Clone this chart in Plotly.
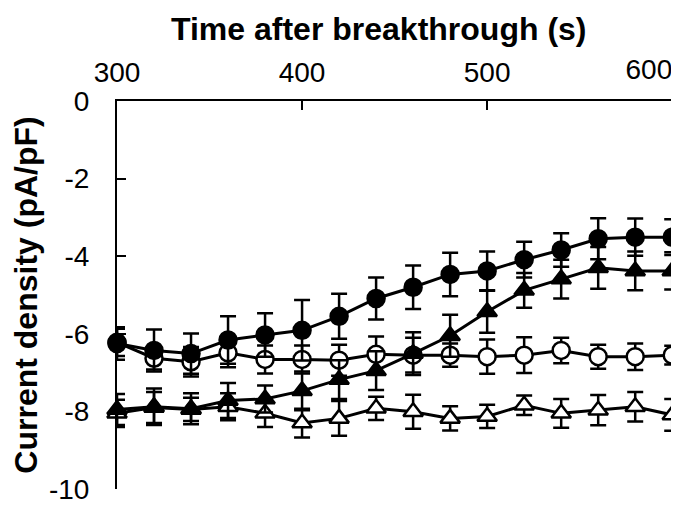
import plotly.graph_objects as go

time_s = [300, 320, 340, 360, 380, 400, 420, 440, 460, 480, 500, 520, 540, 560, 580, 600]

filled_circle = [-6.25, -6.43, -6.51, -6.16, -6.03, -5.91, -5.55, -5.09, -4.80, -4.47, -4.38, -4.09, -3.84, -3.55, -3.51, -3.51]
filled_circle_err = [0.42, 0.54, 0.52, 0.61, 0.56, 0.78, 0.58, 0.54, 0.56, 0.56, 0.50, 0.46, 0.43, 0.53, 0.48, 0.46]

open_circle = [-6.22, -6.63, -6.72, -6.49, -6.66, -6.66, -6.68, -6.53, -6.55, -6.55, -6.59, -6.55, -6.43, -6.59, -6.59, -6.55]
open_circle_err = [0.35, 0.29, 0.38, 0.37, 0.36, 0.36, 0.40, 0.46, 0.45, 0.30, 0.44, 0.46, 0.33, 0.31, 0.34, 0.24]

filled_triangle = [-7.95, -7.88, -7.93, -7.72, -7.68, -7.47, -7.18, -6.95, -6.51, -6.05, -5.43, -4.88, -4.59, -4.30, -4.38, -4.38]
filled_triangle_err = [0.40, 0.47, 0.40, 0.45, 0.35, 0.50, 0.50, 0.50, 0.55, 0.54, 0.54, 0.45, 0.50, 0.54, 0.50, 0.48]

open_triangle = [-8.05, -7.90, -7.95, -7.88, -8.05, -8.30, -8.18, -7.92, -8.01, -8.18, -8.13, -7.84, -8.05, -7.97, -7.88, -8.09]
open_triangle_err = [0.35, 0.40, 0.30, 0.35, 0.35, 0.37, 0.45, 0.30, 0.44, 0.31, 0.30, 0.25, 0.37, 0.39, 0.38, 0.41]

x_ticks = [300, 400, 500]
x_tick_last = [600]
y_ticks = [-10, -8, -6, -4, -2, 0]

FONT = "Liberation Sans, Arial, sans-serif"
X_RANGE = [300, 601.5]

def series(y, err, symbol, fill):
    return go.Scatter(
        x=time_s, y=y, mode="lines+markers",
        line=dict(color="black", width=3),
        marker=dict(symbol=symbol, size=17, color=fill,
                    line=dict(color="black", width=2.5)),
        error_y=dict(type="data", array=err, visible=True,
                     color="black", thickness=2.5, width=8),
        cliponaxis=False, showlegend=False,
    )

fig = go.Figure()
fig.add_trace(series(open_triangle, open_triangle_err, "triangle-up", "white"))
fig.add_trace(series(open_circle, open_circle_err, "circle", "white"))
fig.add_trace(series(filled_triangle, filled_triangle_err, "triangle-up", "black"))
fig.add_trace(series(filled_circle, filled_circle_err, "circle", "black"))
# invisible trace to activate the secondary top axis (last tick label)
fig.add_trace(go.Scatter(x=[X_RANGE[0]], y=[0], xaxis="x2", mode="markers",
                         marker=dict(opacity=0), hoverinfo="skip", showlegend=False))

fig.add_annotation(
    text="<b>Time after breakthrough (s)</b>",
    font=dict(size=32, family=FONT, color="black"),
    xref="paper", yref="paper", x=0.468, y=1,
    xanchor="center", yanchor="middle", yshift=72, borderpad=0,
    showarrow=False,
)

fig.update_layout(
    width=679, height=509,
    margin=dict(l=109, r=12, t=93, b=16),
    paper_bgcolor="white", plot_bgcolor="white",
    font=dict(family=FONT, color="black"),
    xaxis=dict(
        side="top", range=X_RANGE,
        tickvals=x_ticks + x_tick_last, ticktext=[str(v) for v in x_ticks] + [""],
        ticks="inside", ticklen=9, tickwidth=2, tickcolor="black",
        showline=True, linewidth=2, linecolor="black",
        showgrid=False, zeroline=False,
        tickfont=dict(size=28, family=FONT),
        ticklabelstandoff=6,
    ),
    xaxis2=dict(
        overlaying="x", side="top", range=X_RANGE,
        tickvals=x_tick_last, ticktext=[str(v) for v in x_tick_last],
        ticks="", showline=False, showgrid=False, zeroline=False,
        ticklabelposition="outside left",
        tickfont=dict(size=28, family=FONT),
        ticklabelstandoff=15,
    ),
    yaxis=dict(
        range=[-10, 0],
        tickvals=y_ticks, ticktext=[str(v) for v in y_ticks],
        ticks="inside", ticklen=9, tickwidth=2, tickcolor="black",
        showline=True, linewidth=2, linecolor="black",
        showgrid=False, zeroline=False,
        tickfont=dict(size=28, family=FONT),
        ticklabelstandoff=20,
        title=dict(text="<b>Current density (pA/pF)</b>",
                   font=dict(size=32, family=FONT), standoff=4),
    ),
)

fig.write_html("out.html")
